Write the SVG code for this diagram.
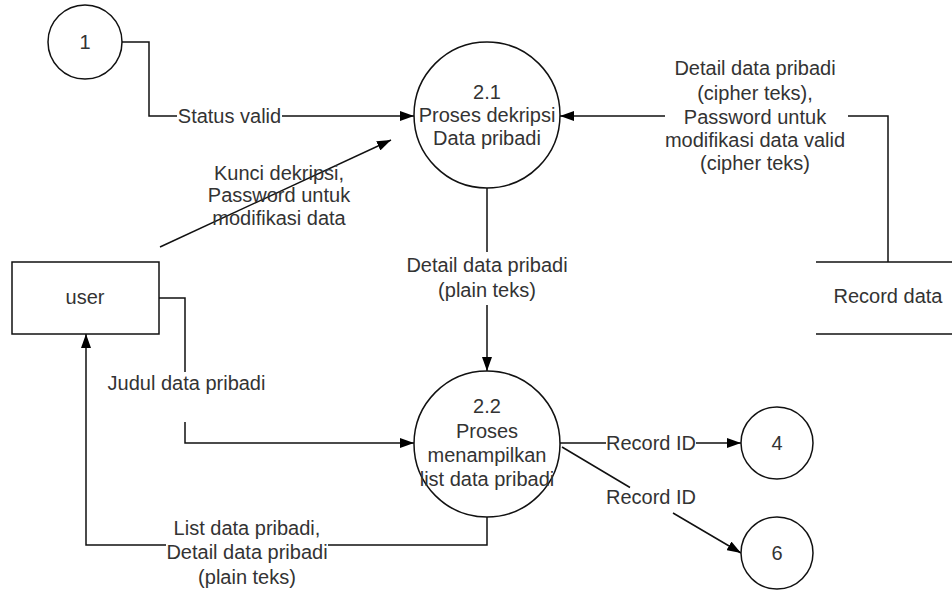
<svg xmlns="http://www.w3.org/2000/svg" width="952" height="590" viewBox="0 0 952 590">
  <defs>
    <marker id="arr" markerUnits="userSpaceOnUse" markerWidth="14" markerHeight="10" refX="14" refY="5" orient="auto">
      <path d="M0,0 L14,5 L0,10 z" fill="#000"/>
    </marker>
    <style>
      .shape { fill: #fff; stroke: #111; stroke-width: 1.5; }
      .conn { fill: none; stroke: #111; stroke-width: 1.5; }
      .store { stroke: #111; stroke-width: 1.5; }
      text { font-family: "Liberation Sans", Arial, sans-serif; font-size: 20px; fill: #333; text-anchor: middle; }
    </style>
  </defs>
  <rect width="952" height="590" fill="#fff"/>

  <g id="connectors">
    <path class="conn" d="M122,42 H149 V116 H177 M282,116 H414" marker-end="url(#arr)"/>
    <path class="conn" d="M160,247 L391,140" marker-end="url(#arr)"/>
    <path class="conn" d="M888,262 V116 H848 M665,116 H560" marker-end="url(#arr)"/>
    <path class="conn" d="M487,188 V252 M487,305 V371" marker-end="url(#arr)"/>
    <path class="conn" d="M159,298 H185 V372 M185,422 V443 H414" marker-end="url(#arr)"/>
    <path class="conn" d="M487,517 V545 H328 M166,545 H86 V334" marker-end="url(#arr)"/>
    <path class="conn" d="M560,443 H606 M696,443 H741" marker-end="url(#arr)"/>
    <path class="conn" d="M562,447 L630,487.5 M673,513 L741,553" marker-end="url(#arr)"/>
  </g>

  <g id="labels">
    <text x="229.5" y="123">Status valid</text>
    <text x="279" y="180">Kunci dekripsi,</text>
    <text x="279" y="202">Password untuk</text>
    <text x="279" y="225">modifikasi data</text>
    <text x="755" y="75">Detail data pribadi</text>
    <text x="755" y="100">(cipher teks),</text>
    <text x="755" y="124">Password untuk</text>
    <text x="755" y="147">modifikasi data valid</text>
    <text x="755" y="170">(cipher teks)</text>
    <text x="487" y="272">Detail data pribadi</text>
    <text x="487" y="297">(plain teks)</text>
    <text x="186.5" y="390">Judul data pribadi</text>
    <text x="247" y="535">List data pribadi,</text>
    <text x="247" y="559">Detail data pribadi</text>
    <text x="247" y="584">(plain teks)</text>
    <text x="651" y="450">Record ID</text>
    <text x="651" y="504">Record ID</text>
  </g>

  <g id="node-1">
    <circle class="shape" cx="85" cy="42" r="37"/>
    <text x="85" y="49">1</text>
  </g>

  <g id="node-2-1">
    <circle class="shape" cx="487" cy="115" r="73"/>
    <text x="487" y="99">2.1</text>
    <text x="487" y="122">Proses dekripsi</text>
    <text x="487" y="145">Data pribadi</text>
  </g>

  <g id="node-2-2">
    <circle class="shape" cx="487" cy="444" r="73"/>
    <text x="487" y="413">2.2</text>
    <text x="487" y="438">Proses</text>
    <text x="487" y="462">menampilkan</text>
    <text x="487" y="486">list data pribadi</text>
  </g>

  <g id="node-4">
    <circle class="shape" cx="777" cy="443" r="36"/>
    <text x="777" y="450">4</text>
  </g>

  <g id="node-6">
    <circle class="shape" cx="777" cy="553" r="36"/>
    <text x="777" y="560">6</text>
  </g>

  <g id="node-user">
    <rect class="shape" x="12" y="262" width="147" height="72"/>
    <text x="85" y="304">user</text>
  </g>

  <g id="node-record-data">
    <line class="store" x1="816" y1="262" x2="952" y2="262"/>
    <line class="store" x1="816" y1="334" x2="952" y2="334"/>
    <text x="888" y="303">Record data</text>
  </g>
</svg>
